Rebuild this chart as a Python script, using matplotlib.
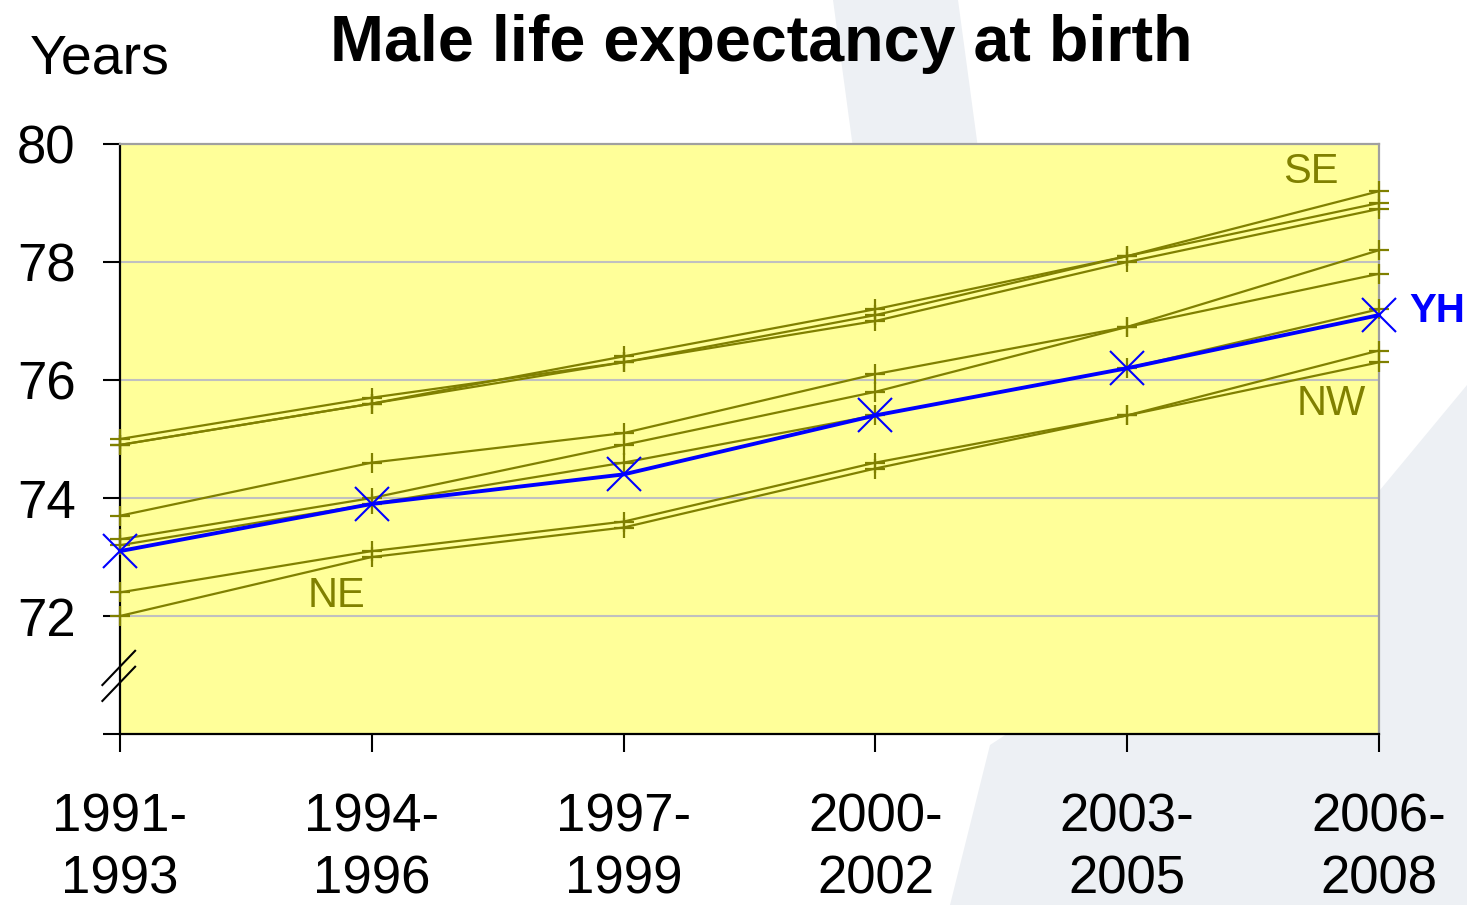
import matplotlib
matplotlib.use('Agg')
import matplotlib.pyplot as plt
from matplotlib.patches import Polygon
from matplotlib import transforms

plt.rcParams['font.family'] = ['Liberation Sans', 'DejaVu Sans']

periods = ['1991-\n1993', '1994-\n1996', '1997-\n1999', '2000-\n2002', '2003-\n2005', '2006-\n2008']

# other English regions (olive lines)
se = [74.9, 75.6, 76.4, 77.2, 78.1, 79.2]
sw = [75.0, 75.7, 76.3, 77.1, 78.1, 79.0]
east = [74.9, 75.6, 76.3, 77.0, 78.0, 78.9]
em = [73.7, 74.6, 75.1, 76.1, 76.9, 77.8]
london = [73.3, 74.0, 74.9, 75.8, 76.9, 78.2]
wm = [73.2, 73.9, 74.6, 75.4, 76.2, 77.2]
nw = [72.4, 73.1, 73.6, 74.6, 75.4, 76.3]
ne = [72.0, 73.0, 73.5, 74.5, 75.4, 76.5]
others = [se, sw, east, em, london, wm, nw, ne]

# Yorkshire and the Humber
yh = [73.1, 73.9, 74.4, 75.4, 76.2, 77.1]

olive = '#808000'
W, H = 1467, 905

fig = plt.figure(figsize=(W / 100, H / 100), dpi=100)

# slide template swooshes in the background
bg = '#EDF0F4'
fig.patches.append(Polygon([(833 / W, 1), (958 / W, 1), (985 / W, 1 - 200 / H), (860 / W, 1 - 200 / H)],
                           closed=True, transform=fig.transFigure, facecolor=bg, edgecolor='none', zorder=-5))
fig.patches.append(Polygon([(1467 / W, 1 - 385 / H), (1467 / W, 0), (950 / W, 0), (990 / W, 1 - 745 / H),
                            (1380 / W, 1 - 490 / H)],
                           closed=True, transform=fig.transFigure, facecolor=bg, edgecolor='none', zorder=-5))

ax = fig.add_axes([120 / W, 1 - 734 / H, 1259 / W, 590 / H])
ax.set_facecolor('#FFFF99')
x = list(range(len(periods)))

for vals in others:
    ax.plot(x, vals, color=olive, lw=1.6, marker='+', ms=14, mew=1.6, clip_on=False, zorder=3)
ax.plot(x, yh, color='#0000FF', lw=2.8, marker='x', ms=24, mew=1.5, clip_on=False, zorder=4)

ax.set_xlim(0, 5)
ax.set_ylim(70, 80)
ax.set_yticks([70, 72, 74, 76, 78, 80])
ax.set_yticklabels(['', '72', '74', '76', '78', '80'])
ax.set_xticks(x)
ax.set_xticklabels(periods, linespacing=1.32)
ax.tick_params(axis='y', direction='out', length=12, width=1.5, pad=20, labelsize=38)
ax.tick_params(axis='x', direction='out', length=13, width=1.5, pad=29, labelsize=38)

for v in [72, 74, 76, 78]:
    ax.axhline(v, color='#C0C0C0', lw=1.5, zorder=1)

for side in ['left', 'bottom']:
    ax.spines[side].set_color('black')
    ax.spines[side].set_linewidth(1.6)
for side in ['top', 'right']:
    ax.spines[side].set_color('#A0A0A0')
    ax.spines[side].set_linewidth(1.6)

# axis break marks
trans = transforms.blended_transform_factory(ax.transAxes, ax.transData)
for y0 in [70.56, 70.83]:
    ax.plot([-0.014, 0.012], [y0, y0 + 0.58], color='black', lw=1.5, transform=trans, clip_on=False, zorder=5)

ax.text(4.73, 79.53, 'SE', color=olive, fontsize=30, ha='center', va='center')
ax.text(4.81, 75.59, 'NW', color=olive, fontsize=30, ha='center', va='center')
ax.text(0.86, 72.34, 'NE', color=olive, fontsize=30, ha='center', va='center')
ax.text(5.23, 77.17, 'YH', color='#0000FF', fontsize=29, fontweight='bold', ha='center', va='center',
        clip_on=False)

fig.text(761 / W, 1 - 44 / H, 'Male life expectancy at birth', fontsize=46.5, fontweight='bold',
         ha='center', va='center')
fig.text(30 / W, 1 - 60 / H, 'Years', fontsize=40, ha='left', va='center')

fig.savefig('out.png', dpi=100)
